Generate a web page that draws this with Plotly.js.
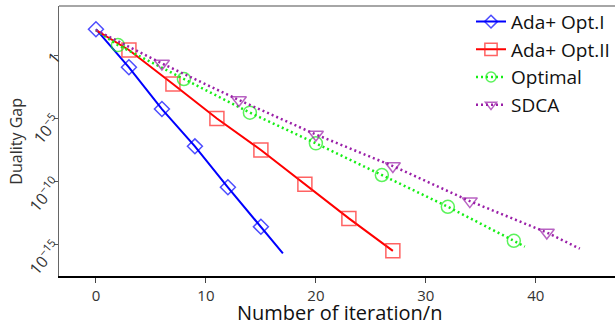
<!DOCTYPE html>
<html>
<head>
<meta charset="utf-8">
<script src="https://cdn.plot.ly/plotly-3.0.1.min.js"></script>
<style>html,body{margin:0;padding:0;background:#fff;}#chart{width:615px;height:321px;}</style>
</head>
<body>
<div id="chart"></div>
<script>
// Ada+ Opt.I
const xOpt1 = [0, 3, 6, 9, 12, 15, 17];
const yOpt1 = [1.2e2, 1.15e-1, 5.6e-5, 6.2e-8, 3.5e-11, 2.6e-14, 2.0e-16];
const mOpt1 = [1, 1, 1, 1, 1, 1, 0];
// Ada+ Opt.II
const xOpt2 = [0, 3, 7, 11, 15, 19, 23, 27];
const yOpt2 = [1.0e2, 2.7, 5.4e-3, 1.0e-5, 3.2e-8, 6.0e-11, 1.2e-13, 3.2e-16];
const mOpt2 = [0, 1, 1, 1, 1, 1, 1, 1];
// Optimal
const xOptimal = [0, 2, 8, 14, 20, 26, 32, 38, 39];
const yOptimal = [1.0e2, 6.6, 1.35e-2, 2.9e-5, 1.07e-7, 3.3e-10, 1.0e-12, 2.0e-15, 6.8e-16];
const mOptimal = [0, 1, 1, 1, 1, 1, 1, 1, 0];
// SDCA
const xSDCA = [0, 6, 13, 20, 27, 34, 41, 44];
const ySDCA = [1.0e2, 2.3e-1, 2.9e-4, 5.4e-7, 1.7e-9, 2.8e-12, 9.1e-15, 4.7e-16];
const mSDCA = [0, 1, 1, 1, 1, 1, 1, 0];

const yTickVals = [1, 1e-5, 1e-10, 1e-15];
const yTickText = ['1', '10<sup>\u22125</sup>', '10<sup>\u221210</sup>', '10<sup>\u221215</sup>'];
const xTickVals = [0, 10, 20, 30, 40];

function sizes(flags, s) { return flags.map(f => f ? s : 0); }

const traces = [
  {name: 'Ada+ Opt.I', x: xOpt1, y: yOpt1, mode: 'lines+markers',
   line: {color: '#0000ff', width: 2},
   marker: {symbol: 'diamond-open', size: sizes(mOpt1, 11.5), color: '#0000ff', line: {width: 1.5}}},
  {name: 'Ada+ Opt.II', x: xOpt2, y: yOpt2, mode: 'lines+markers',
   line: {color: '#ff0000', width: 2},
   marker: {symbol: 'square-open', size: sizes(mOpt2, 14), color: '#ff2020', line: {width: 1.5}}},
  {name: 'Optimal', x: xOptimal, y: yOptimal, mode: 'lines+markers',
   line: {color: '#16ee16', width: 2.5, dash: '2px,3px'},
   marker: {symbol: 'circle-open', size: sizes(mOptimal, 13), color: '#16ee16', line: {width: 1.5}}},
  {name: 'SDCA', x: xSDCA, y: ySDCA, mode: 'lines+markers',
   line: {color: '#9a1fa8', width: 2.5, dash: '2px,3px'},
   marker: {symbol: 'triangle-down-open', size: sizes(mSDCA, 13), color: '#9a1fa8', line: {width: 1.5}}}
];

const layout = {
  width: 615, height: 321,
  margin: {l: 59, r: 0, t: 6, b: 45, pad: 0},
  paper_bgcolor: '#fff', plot_bgcolor: '#fff',
  font: {family: '"Open Sans", "DejaVu Sans", sans-serif', color: '#333'},
  showlegend: true,
  legend: {x: 1, y: 1.012, xanchor: 'right', yanchor: 'top', bgcolor: 'rgba(0,0,0,0)',
           borderwidth: 0, font: {size: 19, color: '#111'}, tracegroupgap: 0},
  xaxis: {
    range: [-3.36, 47.2], tickvals: xTickVals, ticks: 'outside', ticklen: 5, tickcolor: '#444',
    showgrid: false, zeroline: false, showline: true, linecolor: '#000', linewidth: 1.5,
    tickfont: {size: 15, color: '#333'}
  },
  yaxis: {
    type: 'log', range: [-17.49, 3.92], tickvals: yTickVals, ticktext: yTickText,
    ticks: 'outside', ticklen: 4, tickcolor: '#555', tickangle: -50, ticklabelstandoff: -5,
    showgrid: false, zeroline: false, showline: true, linecolor: '#666', linewidth: 1.5,
    tickfont: {size: 16, color: '#333'}
  },
  annotations: [
    {text: 'Duality Gap', xref: 'paper', yref: 'paper', x: -0.078, y: 0.5,
     xanchor: 'center', yanchor: 'middle', textangle: -90, showarrow: false,
     font: {size: 16, color: '#333'}},
    {text: 'Number of iteration/n', xref: 'paper', yref: 'paper', x: 0.5036, y: -0.137,
     xanchor: 'center', yanchor: 'middle', showarrow: false, borderpad: 0,
     font: {size: 20, color: '#111'}}
  ],
  shapes: [{type: 'line', xref: 'paper', yref: 'paper', x0: 0, x1: 1, y0: 1, y1: 1,
            line: {color: '#888', width: 1.5}}]
};

Plotly.newPlot('chart', traces, layout, {displayModeBar: false, staticPlot: true});
</script>
</body>
</html>
